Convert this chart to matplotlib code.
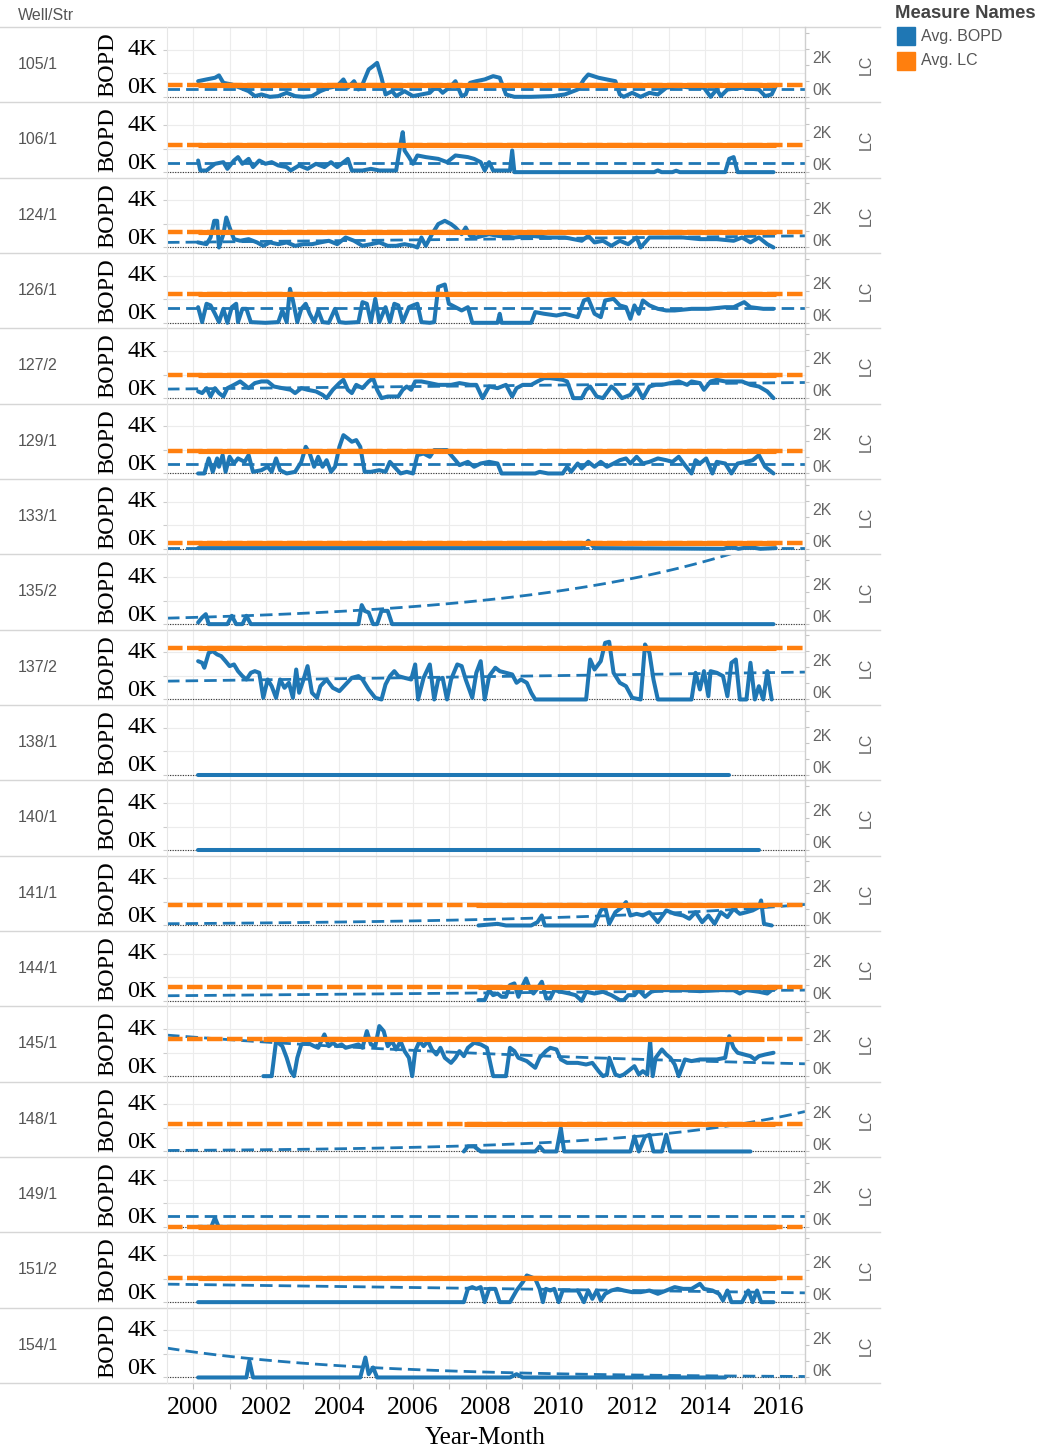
import numpy as np
import matplotlib.pyplot as plt
from matplotlib import transforms
from matplotlib.lines import Line2D
from matplotlib.patches import Rectangle

W, H = 1047, 1452
BLUE = '#1f77b4'
ORANGE = '#ff7f0e'
GREY = '#555555'
SERIF = ['Liberation Serif', 'DejaVu Serif']
SANS = ['Liberation Sans', 'DejaVu Sans']
plt.rcParams['font.family'] = SANS

wells = ['105/1', '106/1', '124/1', '126/1', '127/2', '129/1', '133/1', '135/2', '137/2',
         '138/1', '140/1', '141/1', '144/1', '145/1', '148/1', '149/1', '151/2', '154/1']

# Avg. BOPD per well: month (decimal year) and value
t105 = [2000.14, 2000.37, 2000.6, 2000.71, 2000.83, 2001.06, 2001.29, 2001.52, 2001.69, 2001.87,
        2002.1, 2002.33, 2002.56, 2002.79, 2003.02, 2003.25, 2003.48, 2003.71, 2003.94, 2004.11,
        2004.23, 2004.4, 2004.52, 2004.63, 2004.8, 2004.92, 2005.03, 2005.15, 2005.26, 2005.44,
        2005.55, 2005.78, 2006.01, 2006.24, 2006.47, 2006.65, 2006.82, 2007.05, 2007.17, 2007.34,
        2007.45, 2007.57, 2007.74, 2007.97, 2008.2, 2008.38, 2008.55, 2008.78, 2009.24, 2009.82,
        2010.16, 2010.51, 2010.68, 2010.8, 2011.08, 2011.54, 2011.66, 2011.77, 2012.0, 2012.23,
        2012.47, 2012.7, 2012.93, 2013.27, 2013.62, 2013.96, 2014.14, 2014.31, 2014.42, 2014.6,
        2015.0, 2015.46, 2015.63, 2015.81, 2015.92]
b105 = [1330, 1480, 1620, 1820, 1190, 1050, 770, 480, 60, 200,
        0, 60, 340, 60, 0, 60, 480, 770, 910, 1480,
        770, 1330, 620, 1050, 2330, 2610, 2890, 1620, 200, 480,
        60, 480, 60, 200, 340, 910, 340, 910, 1330, 60,
        200, 1190, 1330, 1480, 1760, 1620, 200, 0, 0, 60,
        200, 620, 1480, 1900, 1620, 1330, 200, 0, 340, 0,
        340, 200, 770, 910, 770, 770, 0, 620, 60, 620,
        770, 620, 60, 200, 910]

t106 = [2000.14, 2000.2, 2000.37, 2000.6, 2000.83, 2000.94, 2001.12, 2001.23, 2001.35, 2001.52,
        2001.64, 2001.81, 2001.98, 2002.15, 2002.33, 2002.56, 2002.67, 2002.9, 2003.13, 2003.36,
        2003.59, 2003.77, 2003.94, 2004.23, 2004.34, 2004.63, 2004.86, 2005.09, 2005.55, 2005.67,
        2005.73, 2005.78, 2005.9, 2006.01, 2006.13, 2006.36, 2006.7, 2006.94, 2007.17, 2007.51,
        2007.68, 2007.86, 2007.97, 2008.09, 2008.2, 2008.66, 2008.72, 2008.78, 2012.6, 2012.7,
        2012.8, 2013.1, 2013.2, 2013.3, 2014.54, 2014.65, 2014.77, 2014.88, 2015.86]
b106 = [990, 140, 140, 710, 850, 280, 990, 1280, 710, 1130,
        430, 990, 710, 850, 570, 430, 140, 570, 280, 710,
        430, 850, 430, 1130, 140, 140, 280, 140, 140, 2410,
        3400, 1840, 1280, 710, 1420, 1280, 1130, 850, 1420, 1280,
        1130, 850, 140, 850, 140, 140, 1840, 0, 0, 150,
        0, 0, 120, 0, 0, 1130, 1280, 0, 0]

t124 = [2000.14, 2000.37, 2000.48, 2000.58, 2000.66, 2000.71, 2000.83, 2000.91, 2001.0, 2001.12,
        2001.29, 2001.52, 2001.75, 2001.92, 2002.1, 2002.33, 2002.56, 2002.79, 2003.02, 2003.25,
        2003.48, 2003.71, 2003.94, 2004.17, 2004.4, 2004.63, 2004.86, 2005.09, 2005.32, 2005.55,
        2005.78, 2006.01, 2006.13, 2006.24, 2006.36, 2006.53, 2006.7, 2006.88, 2007.05, 2007.17,
        2007.34, 2007.45, 2007.57, 2007.74, 2008.09, 2008.32, 2008.78, 2009.24, 2009.7, 2010.16,
        2010.62, 2010.8, 2010.97, 2011.2, 2011.43, 2011.66, 2011.89, 2012.12, 2012.23, 2012.47,
        2012.93, 2013.39, 2013.85, 2014.31, 2014.77, 2015.0, 2015.23, 2015.46, 2015.69, 2015.86]
b124 = [430, 280, 850, 2270, 2270, 0, 1130, 2550, 1700, 710,
        570, 710, 430, 140, 430, 280, 430, 140, 280, 280,
        430, 570, 280, 850, 570, 140, 280, 430, 140, 140,
        280, 140, 0, 850, 140, 1130, 1990, 2270, 1990, 1700,
        1130, 1700, 990, 850, 1130, 990, 850, 990, 850, 850,
        570, 990, 430, 570, 140, 570, 280, 850, 0, 850,
        850, 850, 710, 710, 570, 850, 430, 850, 280, 0]

t126 = [2000.14, 2000.25, 2000.37, 2000.48, 2000.6, 2000.71, 2000.83, 2000.94, 2001.06, 2001.18,
        2001.23, 2001.35, 2001.46, 2001.58, 2001.98, 2002.33, 2002.44, 2002.56, 2002.65, 2002.73,
        2002.85, 2002.96, 2003.08, 2003.19, 2003.31, 2003.42, 2003.54, 2003.71, 2003.88, 2004.0,
        2004.17, 2004.52, 2004.63, 2004.75, 2004.86, 2004.98, 2005.09, 2005.26, 2005.38, 2005.5,
        2005.61, 2005.73, 2005.9, 2006.01, 2006.13, 2006.24, 2006.47, 2006.59, 2006.7, 2006.88,
        2006.99, 2007.17, 2007.34, 2007.51, 2007.63, 2008.32, 2008.38, 2008.43, 2009.24, 2009.35,
        2009.59, 2009.93, 2010.16, 2010.51, 2010.68, 2010.8, 2010.97, 2011.14, 2011.26, 2011.49,
        2011.66, 2011.83, 2011.95, 2012.06, 2012.18, 2012.29, 2012.47, 2012.7, 2012.93, 2013.16,
        2013.62, 2014.08, 2014.54, 2014.77, 2015.06, 2015.23, 2015.58, 2015.86]
b126 = [1330, 60, 1620, 1480, 770, 60, 1190, 0, 1330, 1620,
        60, 1190, 1190, 60, 0, 60, 1050, 60, 2890, 1900,
        60, 1190, 1620, 770, 60, 1050, 60, 0, 1190, 60,
        0, 60, 1760, 1620, 60, 2040, 60, 1330, 60, 1620,
        1480, 60, 1330, 1480, 1620, 60, 0, 60, 3050, 3260,
        1620, 1330, 1050, 1330, 0, 0, 770, 0, 0, 910,
        770, 620, 770, 480, 1900, 2040, 770, 480, 1900, 2040,
        1480, 1330, 340, 1480, 770, 1900, 1480, 1190, 1050, 1050,
        1190, 1190, 1330, 1330, 1760, 1330, 1190, 1190]

t127 = [2000.14, 2000.25, 2000.37, 2000.48, 2000.6, 2000.71, 2000.83, 2000.94, 2001.12, 2001.29,
        2001.41, 2001.52, 2001.69, 2001.87, 2002.04, 2002.21, 2002.44, 2002.67, 2002.79, 2002.96,
        2003.13, 2003.36, 2003.54, 2003.65, 2003.82, 2004.0, 2004.11, 2004.23, 2004.34, 2004.46,
        2004.63, 2004.8, 2004.92, 2005.03, 2005.15, 2005.32, 2005.61, 2005.73, 2005.84, 2005.96,
        2006.07, 2006.24, 2006.47, 2006.7, 2007.05, 2007.28, 2007.57, 2007.74, 2007.91, 2008.09,
        2008.32, 2008.55, 2008.72, 2008.84, 2009.01, 2009.24, 2009.41, 2009.59, 2009.76, 2010.1,
        2010.22, 2010.39, 2010.62, 2010.74, 2010.85, 2011.03, 2011.2, 2011.43, 2011.54, 2011.72,
        2011.95, 2012.12, 2012.29, 2012.47, 2012.64, 2012.81, 2013.04, 2013.27, 2013.5, 2013.62,
        2013.85, 2013.96, 2014.14, 2014.31, 2014.54, 2014.77, 2015.0, 2015.23, 2015.46, 2015.69,
        2015.86]
b127 = [570, 430, 850, 140, 850, 430, 140, 850, 1130, 1420,
        1130, 850, 1280, 1420, 1420, 990, 850, 710, 430, 850,
        710, 570, 280, 0, 710, 1280, 1560, 710, 430, 1130,
        850, 1420, 1700, 710, 0, 140, 140, 710, 990, 710,
        1420, 1420, 1280, 1130, 1130, 1280, 1130, 1130, 0, 990,
        850, 1130, 140, 850, 1130, 1130, 1420, 1700, 1700, 1560,
        1420, 0, 0, 710, 990, 140, 0, 990, 710, 0,
        280, 990, 0, 990, 1130, 1130, 1280, 1420, 1130, 1420,
        1280, 710, 1420, 1560, 1420, 1420, 1420, 1130, 990, 570,
        0]

t129 = [2000.14, 2000.31, 2000.43, 2000.54, 2000.66, 2000.71, 2000.81, 2000.89, 2001.0, 2001.12,
        2001.23, 2001.41, 2001.52, 2001.64, 2001.87, 2002.04, 2002.15, 2002.27, 2002.38, 2002.56,
        2002.79, 2002.96, 2003.08, 2003.19, 2003.31, 2003.42, 2003.54, 2003.65, 2003.77, 2003.88,
        2004.0, 2004.11, 2004.23, 2004.34, 2004.46, 2004.57, 2004.69, 2004.86, 2005.09, 2005.26,
        2005.38, 2005.5, 2005.67, 2005.84, 2006.01, 2006.13, 2006.3, 2006.47, 2006.59, 2006.76,
        2006.94, 2007.05, 2007.17, 2007.28, 2007.51, 2007.68, 2007.86, 2008.09, 2008.32, 2008.43,
        2009.35, 2009.47, 2009.7, 2010.1, 2010.22, 2010.33, 2010.51, 2010.62, 2010.8, 2010.97,
        2011.14, 2011.31, 2011.49, 2011.66, 2011.83, 2011.95, 2012.12, 2012.29, 2012.47, 2012.7,
        2012.93, 2013.1, 2013.27, 2013.44, 2013.62, 2013.73, 2013.85, 2014.02, 2014.19, 2014.31,
        2014.54, 2014.71, 2014.88, 2015.12, 2015.29, 2015.46, 2015.63, 2015.86]
b129 = [0, 0, 1280, 140, 1280, 570, 1560, 140, 1420, 850,
        1280, 990, 1560, 140, 280, 570, 140, 1280, 280, 0,
        140, 990, 2270, 1700, 570, 1420, 570, 1130, 140, 570,
        2270, 3260, 2980, 2700, 2840, 2270, 140, 140, 280, 140,
        990, 570, 0, 140, 0, 1560, 1700, 1420, 1990, 1990,
        1990, 1560, 1130, 710, 990, 570, 850, 990, 850, 0,
        0, 140, 0, 0, 570, 140, 850, 430, 990, 570,
        990, 570, 850, 1130, 1280, 850, 1420, 850, 990, 1280,
        1130, 990, 1420, 710, 0, 1130, 850, 1280, 0, 990,
        850, 0, 850, 990, 1130, 1560, 570, 0]

t133 = [2000.14, 2010.62, 2010.8, 2010.97, 2014.5, 2014.7, 2014.9, 2015.2, 2015.5, 2015.92]
b133 = [60, 60, 680, 60, 0, 200, 0, 150, 0, 60]

t135 = [2000.14, 2000.25, 2000.35, 2000.43, 2000.94, 2001.06, 2001.18, 2001.35, 2001.46, 2001.58,
        2004.52, 2004.61, 2004.69, 2004.8, 2004.92, 2005.03, 2005.15, 2005.32, 2005.44, 2015.86]
b135 = [140, 570, 850, 0, 0, 710, 0, 0, 710, 0,
        0, 1620, 1130, 990, 0, 0, 1130, 1130, 0, 0]

t137 = [2000.14, 2000.25, 2000.31, 2000.43, 2000.54, 2000.66, 2000.77, 2000.89, 2001.0, 2001.12,
        2001.23, 2001.35, 2001.46, 2001.58, 2001.69, 2001.81, 2001.92, 2002.04, 2002.15, 2002.27,
        2002.38, 2002.5, 2002.62, 2002.73, 2002.82, 2002.9, 2003.02, 2003.13, 2003.25, 2003.39,
        2003.48, 2003.65, 2003.82, 2004.0, 2004.17, 2004.34, 2004.52, 2004.63, 2004.8, 2004.98,
        2005.15, 2005.26, 2005.38, 2005.5, 2005.61, 2005.78, 2005.96, 2006.07, 2006.15, 2006.3,
        2006.47, 2006.59, 2006.7, 2006.82, 2006.94, 2007.05, 2007.22, 2007.34, 2007.45, 2007.63,
        2007.74, 2007.86, 2007.97, 2008.09, 2008.26, 2008.38, 2008.55, 2008.72, 2008.84, 2008.96,
        2009.12, 2009.24, 2009.35, 2010.74, 2010.85, 2010.97, 2011.14, 2011.26, 2011.37, 2011.49,
        2011.66, 2011.83, 2012.0, 2012.23, 2012.35, 2012.47, 2012.58, 2012.7, 2013.62, 2013.73,
        2013.85, 2013.96, 2014.08, 2014.14, 2014.31, 2014.48, 2014.6, 2014.71, 2014.83, 2014.94,
        2015.12, 2015.23, 2015.35, 2015.46, 2015.58, 2015.69, 2015.81]
b137 = [3260, 3120, 2700, 3970, 4110, 3830, 3690, 3260, 2840, 2980,
        2410, 1990, 1700, 2270, 2410, 2270, 140, 1700, 1130, 140,
        1700, 990, 1420, 140, 2550, 570, 1700, 2840, 570, 140,
        1130, 1700, 990, 710, 1280, 1840, 1990, 1700, 850, 140,
        0, 1280, 1990, 2410, 1990, 1840, 1700, 2980, 0, 1840,
        2980, 0, 1700, 1840, 0, 1700, 2980, 2840, 1700, 140,
        2270, 3260, 0, 1990, 2700, 2410, 2270, 2130, 1420, 1700,
        1420, 570, 0, 0, 3400, 2550, 3260, 4820, 4910, 2270,
        1420, 1130, 140, 0, 4680, 3970, 1700, 0, 0, 2270,
        850, 2410, 280, 2410, 2270, 1990, 280, 3120, 3400, 0,
        0, 3120, 0, 1130, 0, 2410, 0]

t138 = [2000.14, 2014.65]
b138 = [0, 0]

t140 = [2000.14, 2015.46]
b140 = [0, 0]

t141 = [2007.8, 2008.32, 2008.55, 2009.24, 2009.41, 2009.53, 2009.61, 2010.97, 2011.14, 2011.26,
        2011.37, 2011.54, 2011.72, 2011.83, 2011.95, 2012.12, 2012.29, 2012.47, 2012.7, 2012.93,
        2013.16, 2013.39, 2013.56, 2013.73, 2013.91, 2014.08, 2014.25, 2014.42, 2014.6, 2014.77,
        2014.94, 2015.12, 2015.29, 2015.46, 2015.52, 2015.6, 2015.81]
b141 = [0, 140, 0, 0, 280, 850, 0, 0, 1280, 1560,
        140, 1130, 1560, 1990, 850, 990, 850, 1130, 280, 1280,
        990, 850, 570, 1130, 280, 850, 140, 1130, 710, 1420,
        990, 1130, 1280, 1560, 2130, 140, 0]

t144 = [2007.8, 2007.97, 2008.09, 2008.2, 2008.32, 2008.43, 2008.55, 2008.66, 2008.78, 2008.89,
        2008.99, 2009.1, 2009.22, 2009.3, 2009.41, 2009.53, 2009.65, 2009.76, 2009.87, 2010.05,
        2010.28, 2010.45, 2010.62, 2010.74, 2010.97, 2011.2, 2011.43, 2011.66, 2011.77, 2011.89,
        2012.06, 2012.18, 2012.35, 2012.52, 2012.7, 2012.93, 2013.39, 2013.85, 2014.31, 2014.77,
        2014.94, 2015.12, 2015.46, 2015.69, 2015.81, 2015.92]
b144 = [60, 60, 910, 480, 620, 340, 340, 1330, 1480, 340,
        1190, 1900, 910, 620, 1050, 1620, 200, 200, 910, 770,
        620, 480, 0, 770, 620, 770, 480, 60, 60, 480,
        480, 910, 340, 770, 910, 910, 910, 820, 910, 910,
        620, 910, 770, 620, 910, 1050]

t145 = [2001.92, 2002.15, 2002.27, 2002.44, 2002.56, 2002.67, 2002.76, 2002.85, 2002.96, 2003.13,
        2003.31, 2003.42, 2003.59, 2003.71, 2003.82, 2003.94, 2004.06, 2004.17, 2004.34, 2004.52,
        2004.63, 2004.75, 2004.86, 2004.98, 2005.09, 2005.21, 2005.32, 2005.44, 2005.55, 2005.67,
        2005.78, 2005.9, 2005.99, 2006.07, 2006.19, 2006.3, 2006.42, 2006.53, 2006.65, 2006.76,
        2006.88, 2007.05, 2007.17, 2007.28, 2007.4, 2007.51, 2007.68, 2007.86, 2008.03, 2008.2,
        2008.55, 2008.66, 2008.78, 2008.89, 2009.12, 2009.35, 2009.47, 2009.64, 2009.76, 2009.93,
        2010.05, 2010.22, 2010.51, 2010.74, 2010.91, 2011.08, 2011.2, 2011.31, 2011.37, 2011.54,
        2011.66, 2011.77, 2011.89, 2012.06, 2012.18, 2012.29, 2012.41, 2012.49, 2012.56, 2012.64,
        2012.81, 2012.93, 2013.04, 2013.16, 2013.27, 2013.44, 2013.62, 2013.85, 2014.08, 2014.31,
        2014.54, 2014.65, 2014.77, 2014.88, 2015.06, 2015.23, 2015.35, 2015.46, 2015.63, 2015.86]
b145 = [0, 0, 2980, 2550, 1560, 430, 0, 1560, 2700, 2840,
        2550, 2410, 3550, 2550, 2840, 2550, 2700, 2410, 2550, 2700,
        2410, 3830, 2700, 2550, 4260, 3830, 2550, 2980, 2270, 2980,
        2130, 1560, 0, 2130, 2980, 2550, 2980, 2270, 1840, 2410,
        1560, 1130, 1560, 2130, 1700, 2410, 2840, 2700, 2410, 0,
        0, 2410, 2130, 1560, 1280, 710, 1560, 2130, 2410, 2270,
        1420, 1130, 1130, 990, 1130, 430, 0, 140, 1560, 140,
        0, 140, 430, 850, 140, 430, 140, 2980, 0, 1560,
        2270, 1840, 1560, 990, 0, 1420, 1280, 1420, 1420, 1420,
        1560, 3400, 2410, 1990, 1840, 1700, 1420, 1700, 1840, 1990]

t148 = [2007.4, 2007.51, 2007.68, 2007.86, 2009.35, 2009.47, 2009.59, 2009.93, 2010.05, 2010.14,
        2011.95, 2012.06, 2012.18, 2012.35, 2012.47, 2012.58, 2012.81, 2012.93, 2013.04, 2015.23]
b148 = [0, 430, 430, 0, 0, 430, 0, 0, 1990, 0,
        0, 1280, 0, 1280, 1420, 0, 0, 1420, 0, 0]

t149 = [2000.14, 2000.5, 2000.6, 2000.7, 2015.92]
b149 = [0, 0, 770, 0, 0]

t151 = [2000.14, 2007.4, 2007.51, 2007.63, 2007.74, 2007.86, 2007.97, 2008.09, 2008.26, 2008.38,
        2008.66, 2008.84, 2009.01, 2009.12, 2009.24, 2009.35, 2009.47, 2009.56, 2009.64, 2009.76,
        2009.87, 2009.99, 2010.1, 2010.28, 2010.51, 2010.68, 2010.8, 2010.91, 2011.03, 2011.14,
        2011.26, 2011.43, 2011.6, 2011.77, 2012.0, 2012.23, 2012.47, 2012.7, 2012.93, 2013.16,
        2013.39, 2013.62, 2013.85, 2013.96, 2014.19, 2014.37, 2014.48, 2014.6, 2014.71, 2015.0,
        2015.17, 2015.29, 2015.41, 2015.52, 2015.86]
b151 = [0, 0, 1130, 1280, 1130, 1280, 0, 1130, 1130, 0,
        0, 990, 1700, 2270, 2130, 1990, 1130, 0, 1130, 990,
        1130, 0, 990, 990, 990, 0, 990, 280, 990, 140,
        710, 990, 1130, 990, 850, 850, 990, 710, 990, 1280,
        1130, 1130, 1560, 1130, 990, 710, 140, 990, 0, 0,
        990, 0, 990, 0, 0]

t154 = [2000.14, 2001.46, 2001.54, 2001.64, 2004.57, 2004.71, 2004.8, 2004.92, 2005.03, 2008.66,
        2008.84, 2009.01, 2014.54]
b154 = [0, 0, 1420, 0, 0, 1700, 280, 850, 0, 0,
        280, 0, 0]

bopd_t = [t105, t106, t124, t126, t127, t129, t133, t135, t137,
          t138, t140, t141, t144, t145, t148, t149, t151, t154]
bopd_v = [b105, b106, b124, b126, b127, b129, b133, b135, b137,
          b138, b140, b141, b144, b145, b148, b149, b151, b154]

# BOPD trend line (value at left and right end of the axis, model)
trend_start = [680, 770, 430, 1250, 770, 790, 100, 510, 1560,
               np.nan, np.nan, 150, 430, 3490, 85, 900, 1530, 2500]
trend_end = [680, 770, 990, 1250, 1330, 790, 100, 8270, 2330,
             np.nan, np.nan, 1790, 910, 1050, 3400, 900, 790, 85]
trend_kind = ['lin', 'lin', 'lin', 'lin', 'lin', 'lin', 'lin', 'exp', 'lin',
              None, None, 'exp', 'lin', 'exp', 'exp', 'lin', 'lin', 'exp']

# Avg. LC per well (constant) and the months it covers
lc_value = [750, 1700, 940, 1810, 1420, 1400, 350, np.nan, 3190,
            np.nan, np.nan, 1310, 875, 2330, 1710, 0, 1500, np.nan]
lc_first = [2000.14, 2000.14, 2000.14, 2000.14, 2000.14, 2000.14, 2000.14, np.nan, 2000.14,
            np.nan, np.nan, 2007.74, 2007.8, 2001.92, 2007.4, 2000.14, 2000.14, np.nan]
lc_last = [2015.92, 2015.92, 2015.92, 2015.92, 2015.92, 2015.92, 2015.92, np.nan, 2015.92,
           np.nan, np.nan, 2015.69, 2015.92, 2015.6, 2015.9, 2015.92, 2015.92, np.nan]

years = list(range(2000, 2017))
XMIN, XMAX = 1999.29, 2016.72


def px(x):
    return x / W


def py(y):
    return 1 - y / H


def main():
    fig = plt.figure(figsize=(W / 100, H / 100), dpi=100)
    top, bottom = 27, 1383
    rh = (bottom - top) / len(wells)
    left, right = 167, 805

    for i, well in enumerate(wells):
        y0 = top + i * rh
        ax = fig.add_axes([px(left), py(y0 + rh), px(right - left), rh / H])
        ax.set_xlim(XMIN, XMAX)
        ax.set_ylim(-470, 5940)
        for s in ax.spines.values():
            s.set_visible(False)
        ax.set_axisbelow(True)
        ax.set_xticks(years)
        ax.set_yticks([0, 2000, 4000])
        ax.grid(True, color='#ececec', lw=0.8)
        ax.tick_params(axis='y', length=3, color='#cccccc', labelleft=False)
        if i == len(wells) - 1:
            ax.set_xticklabels([str(y) if y % 2 == 0 else '' for y in years],
                               fontfamily=SERIF, fontsize=18.5)
            ax.tick_params(axis='x', length=4, color='#bbbbbb', pad=6)
        else:
            ax.tick_params(axis='x', length=0, labelbottom=False)
        ax.axhline(0, color='#333333', lw=0.8, ls=(0, (1, 1.3)), zorder=2)

        ax.plot(bopd_t[i], bopd_v[i], color=BLUE, lw=2.9, solid_joinstyle='round',
                solid_capstyle='round', zorder=3)
        if trend_kind[i] is not None:
            tt = np.linspace(XMIN, XMAX, 120)
            f = (tt - XMIN) / (XMAX - XMIN)
            a, b = trend_start[i], trend_end[i]
            if trend_kind[i] == 'exp':
                tv = a * (b / a) ** f
            else:
                tv = a + (b - a) * f
            ax.plot(tt, tv, color=BLUE, lw=2.0, dashes=(4.5, 2.2), zorder=4)

        trans = transforms.blended_transform_factory(ax.transAxes, ax.transData)
        ax.text(-0.016, 4000, '4K', transform=trans, ha='right', va='center',
                fontsize=17.5, family=SERIF, color='black')
        ax.annotate('0K', xy=(-0.016, 0), xycoords=trans, xytext=(0, 6.5),
                    textcoords='offset points', ha='right', va='center',
                    fontsize=17.5, family=SERIF, color='black')

        ax2 = ax.twinx()
        ax2.set_ylim(-345, 4361)
        for s in ax2.spines.values():
            s.set_visible(False)
        ax2.set_yticks([0, 1000, 2000, 3000, 4000])
        ax2.tick_params(axis='y', length=3, color='#c4c4c4', labelright=False)
        if not np.isnan(lc_value[i]):
            v = lc_value[i]
            ax2.plot([XMIN, XMAX], [v, v], color=ORANGE, lw=3.2, dashes=(3.5, 1.0),
                     solid_capstyle='butt')
            ax2.plot([lc_first[i], lc_last[i]], [v, v], color=ORANGE, lw=3.7,
                     solid_capstyle='butt')
        trans2 = transforms.blended_transform_factory(ax2.transAxes, ax2.transData)
        for val, lab in [(2000, '2K'), (0, '0K')]:
            ax2.annotate(lab, xy=(1.0, val), xycoords=trans2, xytext=(5, 4.5),
                         textcoords='offset points', ha='left', va='center',
                         fontsize=11.5, color='#666666')

        yc = py(y0 + rh / 2)
        fig.text(px(18), yc, well, ha='left', va='center', fontsize=11.5, color=GREY)
        fig.text(px(108), yc, 'BOPD', rotation=90, ha='center', va='center',
                 fontsize=17.5, family=SERIF, color='black')
        fig.text(px(866), yc, 'LC', rotation=90, ha='center', va='center',
                 fontsize=11.5, color='#666666')

    # row separators and axis rules
    for i in range(len(wells) + 1):
        y = py(top + i * rh)
        fig.add_artist(Line2D([0, px(880)], [y, y], color='#d6d6d6', lw=1.0))
    fig.add_artist(Line2D([px(right), px(right)], [py(top), py(bottom)], color='#cfcfcf', lw=1.0))
    fig.add_artist(Line2D([px(left), px(left)], [py(top), py(bottom)], color='#e6e6e6', lw=0.8))

    fig.text(px(18), py(16), 'Well/Str', ha='left', va='center', fontsize=11.5, color=GREY)
    fig.text(px(485), py(1438), 'Year-Month', ha='center', va='center',
             fontsize=18, family=SERIF, color='black')

    # legend
    fig.text(px(895), py(14), 'Measure Names', ha='left', va='center', fontsize=13.3,
             fontweight='bold', color='#444444')
    for k, (lab, col) in enumerate([('Avg. BOPD', BLUE), ('Avg. LC', ORANGE)]):
        yc = 36 + k * 25
        fig.add_artist(Rectangle((px(897), py(yc + 9)), px(18), 18 / H, color=col,
                                 transform=fig.transFigure))
        fig.text(px(921), py(yc), lab, ha='left', va='center', fontsize=11.5, color=GREY)

    fig.savefig('out.png', dpi=100)


if __name__ == '__main__':
    main()
